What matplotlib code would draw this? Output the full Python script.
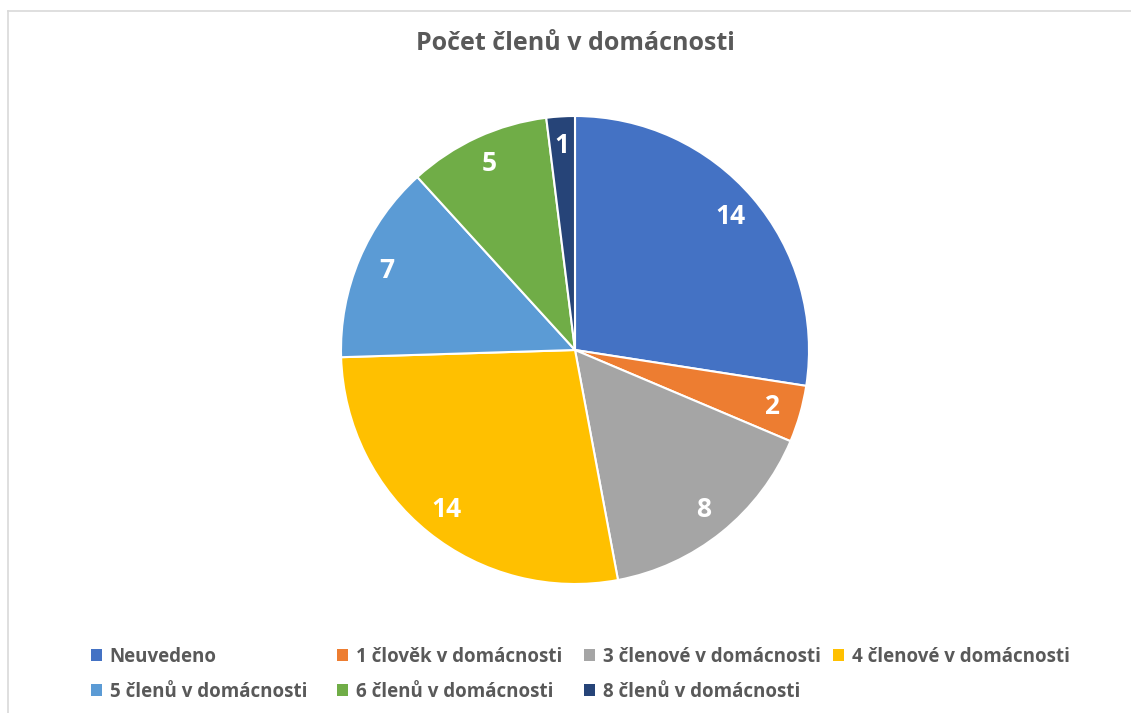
import matplotlib
matplotlib.use("Agg")
import matplotlib.pyplot as plt
from matplotlib.patches import Patch
from matplotlib.lines import Line2D

# Data
categories = ["Neuvedeno", "1 člověk v domácnosti", "3 členové v domácnosti",
              "4 členové v domácnosti", "5 členů v domácnosti", "6 členů v domácnosti",
              "8 členů v domácnosti"]
values = [14, 2, 8, 14, 7, 5, 1]
colors = ["#4472C4", "#ED7D31", "#A5A5A5", "#FFC000", "#5B9BD5", "#70AD47", "#264478"]
title = "Počet členů v domácnosti"

TEXT = "#595959"
FONT = ["Open Sans", "DejaVu Sans"]
W, H = 1131, 713

fig = plt.figure(figsize=(W / 100, H / 100), dpi=100)

# chart frame (left and top edges visible)
fig.add_artist(Line2D([8 / W, 8 / W], [0, 1 - 11 / H], color="#D9D9D9", lw=1.2))
fig.add_artist(Line2D([8 / W, 1], [1 - 11 / H, 1 - 11 / H], color="#D9D9D9", lw=1.2))

# Pie axes, center (575, 350), radius 234 px
cx, cy, r = 575, 350, 234
ax = fig.add_axes([(cx - r) / W, (H - cy - r) / H, 2 * r / W, 2 * r / H])
wedges, texts = ax.pie(values, colors=colors, startangle=90, counterclock=False,
                       radius=1, labels=[str(v) for v in values], labeldistance=0.875,
                       wedgeprops=dict(edgecolor="white", linewidth=1.5))
for t in texts:
    t.set_color("white")
    t.set_fontsize(19)
    t.set_fontweight("bold")
    t.set_family(FONT)
    t.set_ha("center")
    t.set_va("center")
ax.set_xlim(-1, 1)
ax.set_ylim(-1, 1)
ax.set_aspect("equal")
ax.axis("off")

fig.text(cx / W, 1 - 43 / H, title, ha="center", va="center", fontsize=18,
         fontweight="bold", color=TEXT, family=FONT)

# Legend: four columns with equal spacing
col_x = [91, 337, 584, 833]
columns = [[0, 4], [1, 5], [2, 6], [3]]
for x, idx in zip(col_x, columns):
    handles = [Patch(facecolor=colors[i], edgecolor="none") for i in idx]
    leg = fig.legend(handles, [categories[i] for i in idx], loc="upper left",
                     bbox_to_anchor=(x / W, 1 - 647 / H), frameon=False,
                     handlelength=0.6, handleheight=0.6, handletextpad=0.4,
                     labelspacing=0.78, borderpad=0, borderaxespad=0,
                     prop=dict(family=FONT, weight="bold", size=13.5))
    for t in leg.get_texts():
        t.set_color(TEXT)

fig.savefig("out.png", dpi=100)
